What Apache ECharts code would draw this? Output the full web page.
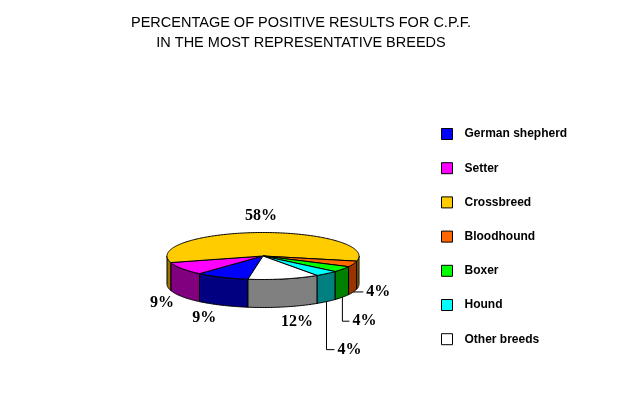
<!DOCTYPE html>
<html>
<head>
<meta charset="utf-8">
<script src="https://cdn.jsdelivr.net/npm/echarts@6/dist/echarts.min.js"></script>
<style>
    html, body { margin: 0; padding: 0; background: #fff; }
    #main { width: 629px; height: 399px; }
</style>
</head>
<body>
<div id="main"></div>
<script>
// 数据
var breeds = ['German shepherd', 'Setter', 'Crossbreed', 'Bloodhound', 'Boxer', 'Hound', 'Other breeds'];
var percents = [9, 9, 58, 4, 4, 4, 12];

// 颜色（顶面 / 侧面）
var topColors = ['#0000ff', '#ff00ff', '#ffcc00', '#ff6600', '#00ff00', '#00ffff', '#ffffff'];
var sideColors = ['#000080', '#800080', '#9c7400', '#993300', '#008000', '#008080', '#808080'];

// 饼图布局
var cx = 263, cy = 256, rx = 96, ry = 23.5, depth = 28, startAngle = 189;
// 标签相对锚点的偏移
var labelDx = [-18, -20, 1, 13, 10, 11, 13];
var labelDy = [13, 6, -17, 0, 24, 48, 15];
var leader = [false, false, false, true, true, true, false];

var total = percents.reduce(function (a, b) { return a + b; }, 0);

function pt(a, dy) {
    var r = a * Math.PI / 180;
    return [cx + rx * Math.sin(r), cy - ry * Math.cos(r) + (dy || 0)];
}

function arc(a1, a2, dy) {
    var n = Math.max(2, Math.ceil(Math.abs(a2 - a1)));
    var pts = [];
    for (var k = 0; k <= n; k++) {
        pts.push(pt(a1 + (a2 - a1) * k / n, dy));
    }
    return pts;
}

function sliceAngles(i) {
    var before = 0;
    for (var k = 0; k < i; k++) before += percents[k];
    var a1 = startAngle + 360 * before / total;
    return [a1, a1 + 360 * percents[i] / total];
}

var fronts = [[-270, -90], [90, 270], [450, 630]];

function renderSlice(params, api) {
    var i = params.seriesIndex;
    var ang = sliceAngles(i);
    var a1 = ang[0], a2 = ang[1];
    var children = [];

    // 侧面（只画前半部分）
    fronts.forEach(function (f) {
        var s = Math.max(a1, f[0]), e = Math.min(a2, f[1]);
        if (e > s) {
            children.push({
                type: 'polygon',
                z2: 1,
                shape: { points: arc(s, e, 0).concat(arc(e, s, depth)) },
                style: { fill: sideColors[i], stroke: '#000', lineWidth: 1 }
            });
        }
    });

    // 顶面
    children.push({
        type: 'polygon',
        z2: 2,
        shape: { points: [[cx, cy]].concat(arc(a1, a2, 0)) },
        style: { fill: topColors[i], stroke: '#000', lineWidth: 1 }
    });

    // 标签
    var mid = (a1 + a2) / 2;
    var m = ((mid % 360) + 360) % 360;
    var anchor = (m > 90 && m < 270) ? pt(mid, depth) : pt(mid, 0);
    var lx = anchor[0] + labelDx[i], ly = anchor[1] + labelDy[i];
    if (leader[i]) {
        children.push({
            type: 'polyline',
            z2: 3,
            shape: { points: [anchor, [anchor[0], ly], [lx - 3, ly]] },
            style: { stroke: '#000', lineWidth: 1, fill: null }
        });
    }
    children.push({
        type: 'text',
        z2: 3,
        x: lx,
        y: ly,
        style: {
            text: api.value(0) + '%',
            font: 'bold 16px "Liberation Serif"',
            fill: '#000',
            align: leader[i] ? 'left' : 'center',
            verticalAlign: 'middle'
        }
    });

    return { type: 'group', children: children };
}

var myChart = echarts.init(document.getElementById('main'));

var option = {
    animation: false,
    color: topColors,
    title: {
        text: 'PERCENTAGE OF POSITIVE RESULTS FOR C.P.F.\nIN THE MOST REPRESENTATIVE BREEDS',
        left: 301,
        top: 13,
        padding: 0,
        textAlign: 'center',
        textStyle: {
            fontFamily: 'Liberation Sans',
            fontSize: 14.5,
            fontWeight: 'normal',
            color: '#000',
            lineHeight: 20
        }
    },
    legend: {
        orient: 'vertical',
        left: 441,
        top: 128,
        padding: 0,
        itemWidth: 11,
        itemHeight: 11,
        itemGap: 22.2,
        icon: 'rect',
        selectedMode: false,
        itemStyle: { borderColor: '#000', borderWidth: 1 },
        textStyle: {
            fontFamily: 'Liberation Sans',
            fontSize: 12,
            fontWeight: 'bold',
            color: '#000',
            padding: [0, 0, 0, 7]
        },
        data: breeds
    },
    series: breeds.map(function (name, i) {
        return {
            type: 'custom',
            name: name,
            coordinateSystem: 'none',
            silent: true,
            data: [percents[i]],
            renderItem: renderSlice
        };
    })
};

myChart.setOption(option);
</script>
</body>
</html>
